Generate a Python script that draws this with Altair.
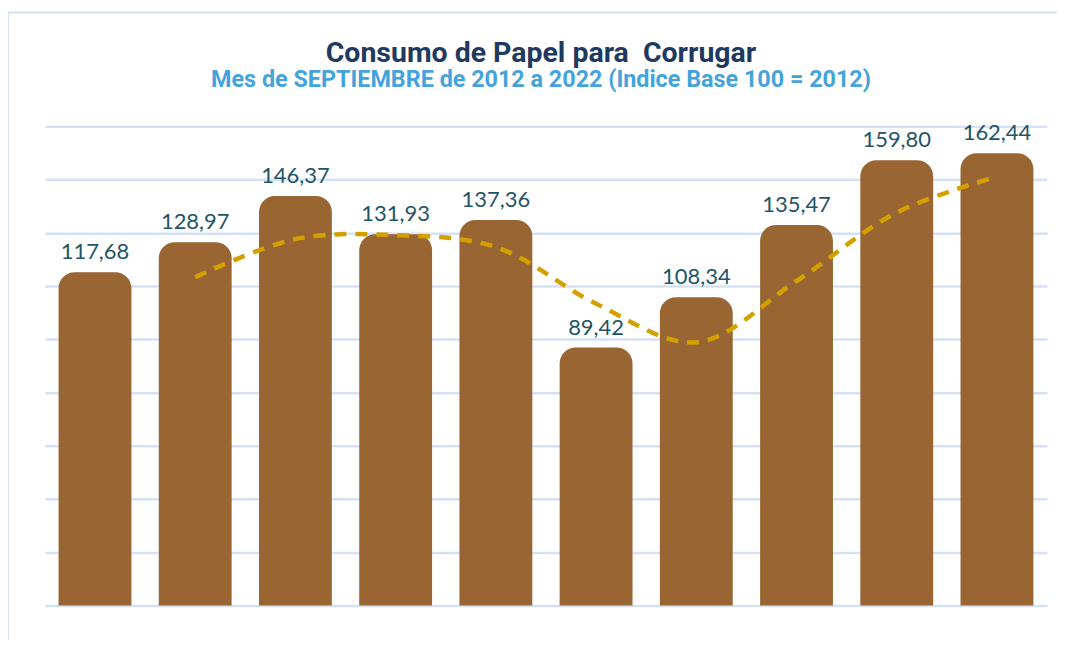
import altair as alt
import pandas as pd

years = ["2013", "2014", "2015", "2016", "2017", "2018", "2019", "2020", "2021", "2022"]
values = [117.68, 128.97, 146.37, 131.93, 137.36, 89.42, 108.34, 135.47, 159.80, 162.44]
labels = [f"{v:.2f}".replace(".", ",") for v in values]

title_text = "Consumo de Papel para \u00a0Corrugar"
subtitle_text = "Mes de SEPTIEMBRE de 2012 a 2022 (Indice Base 100 = 2012)"

df = pd.DataFrame({"year": years, "value": values, "label": labels})

W, H = 1004, 480
PAD_L, PAD_T = 37, 118
OX, OY = 8 + PAD_L, 8 + PAD_T  # page position of plot origin

x = alt.X("year:N", sort=years, title=None,
          scale=alt.Scale(paddingInner=0.273, paddingOuter=0.136),
          axis=None)
yscale = alt.Scale(domain=[0, 180], nice=False)
y = alt.Y("value:Q", scale=yscale, title=None,
          axis=alt.Axis(labels=False, ticks=False, domain=False,
                        values=list(range(0, 181, 20)),
                        gridColor="#D6E2F3", gridWidth=2.5, gridOpacity=1))

base = alt.Chart(df)
one = alt.Chart(pd.DataFrame({"k": [0]}))

border = one.mark_rect(
    fillOpacity=0, stroke="#D3E1F3", strokeWidth=2
).encode(
    x=alt.value(8 - OX),
    x2=alt.value(1090 - OX),
    y=alt.value(12 - OY),
    y2=alt.value(690 - OY),
)

title = one.mark_text(
    text=title_text, font="Roboto", fontSize=28.5, fontWeight="bold",
    color="#1F3A60", align="center", baseline="alphabetic"
).encode(x=alt.value(542 - OX), y=alt.value(61 - OY))

subtitle = one.mark_text(
    text=subtitle_text, font="Roboto", fontSize=23.4, fontWeight="bold",
    color="#45A3DC", align="center", baseline="alphabetic"
).encode(x=alt.value(542 - OX), y=alt.value(87 - OY))

grid = base.mark_bar(opacity=0).encode(x=x, y=y)

bars = base.mark_bar(
    color="#996633", cornerRadiusTopLeft=16, cornerRadiusTopRight=16, yOffset=-20, y2Offset=0
).encode(x=x, y=alt.Y("value:Q", scale=yscale), y2=alt.datum(0))

text = base.mark_text(
    font="Lato", fontSize=22, color="#1F5566", baseline="alphabetic", dy=-33
).encode(x=x, y=alt.Y("value:Q", scale=yscale), text="label:N")

trend = base.transform_window(
    avg="mean(value)", n="count()", frame=[-1, 0], sort=[alt.SortField("year")]
).transform_filter("datum.n == 2").mark_line(
    color="#D4A000", strokeWidth=4.5, strokeDash=[12, 9], interpolate="catmull-rom"
).encode(x=x, y=alt.Y("avg:Q", scale=yscale))

chart = alt.layer(border, grid, bars, trend, text, title, subtitle).properties(
    width=W, height=H,
    padding={"left": PAD_L, "top": PAD_T, "right": 10, "bottom": 34},
    autosize=alt.AutoSizeParams(type="none"),
).configure_view(stroke=None)

chart.save("out.html", embed_options={"renderer": "svg", "actions": False})
